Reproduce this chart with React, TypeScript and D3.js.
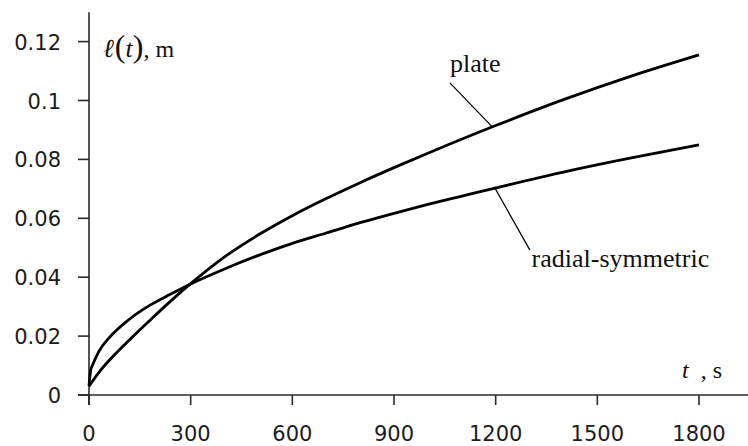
import { scaleLinear, line as d3line, curveMonotoneX } from "d3";

// time, s
const timePlate = [0, 30, 60, 120, 180, 240, 300, 400, 500, 600, 700, 800, 900, 1000, 1200, 1400, 1600, 1800];
const lenPlate = [0.003, 0.0078, 0.0118, 0.0188, 0.0254, 0.0318, 0.0378, 0.0469, 0.0544, 0.0609, 0.0667, 0.0721, 0.0772, 0.0821, 0.0915, 0.1003, 0.1083, 0.1155];

const timeRadial = [0, 5, 10, 30, 60, 120, 180, 240, 300, 400, 500, 600, 700, 800, 900, 1000, 1200, 1400, 1600, 1800];
const lenRadial = [0.003, 0.0085, 0.01, 0.015, 0.0195, 0.0258, 0.0305, 0.0342, 0.0377, 0.0428, 0.0474, 0.0515, 0.055, 0.0585, 0.0617, 0.0647, 0.0703, 0.0757, 0.0805, 0.0849];

const xTicks = [0, 300, 600, 900, 1200, 1500, 1800];
const yTicks = [0, 0.02, 0.04, 0.06, 0.08, 0.1, 0.12];
const yTickLabels = ["0", "0.02", "0.04", "0.06", "0.08", "0.1", "0.12"];

// annotation anchors in data units
const plateNote = { text: "plate", curveT: 1190, tipT: 1065, tipV: 0.106, labelT: 1065, labelV: 0.1097 };
const radialNote = { text: "radial-symmetric", curveT: 1198, tipT: 1301, tipV: 0.0492, labelT: 1306, labelV: 0.0435 };

type Pt = { t: number; v: number };

const zip = (ts: number[], vs: number[]): Pt[] => ts.map((t, i) => ({ t, v: vs[i] }));

function valueAt(pts: Pt[], t: number) {
  for (let i = 1; i < pts.length; i++) {
    if (t <= pts[i].t) {
      const a = pts[i - 1];
      const b = pts[i];
      return a.v + ((t - a.t) / (b.t - a.t)) * (b.v - a.v);
    }
  }
  return pts[pts.length - 1].v;
}

export default function App() {
  const width = 748;
  const height = 446;

  const x = scaleLinear().domain([0, 1800]).range([89, 699]);
  const y = scaleLinear().domain([0, 0.12]).range([395, 41.6]);

  const plate = zip(timePlate, lenPlate);
  const radial = zip(timeRadial, lenRadial);

  const line = d3line<Pt>()
    .x((d) => x(d.t))
    .y((d) => y(d.v))
    .curve(curveMonotoneX);

  const axisColor = "#2a2a2a";
  const tickFont = "'DejaVu Sans', Verdana, sans-serif";
  const serif = "'Liberation Serif', 'Times New Roman', serif";

  const notes = [
    { ...plateNote, pts: plate },
    { ...radialNote, pts: radial },
  ];

  return (
    <svg
      width={width}
      height={height}
      viewBox={`0 0 ${width} ${height}`}
      style={{ position: "absolute", left: 0, top: 0, background: "#fff" }}
    >
      {/* Axes */}
      <line x1={x(0)} y1={y(0.13)} x2={x(0)} y2={y(0) + 10} stroke={axisColor} strokeWidth={1.6} />
      <line x1={x(0) - 11} y1={y(0)} x2={x(1950)} y2={y(0)} stroke={axisColor} strokeWidth={1.6} />

      {/* Y ticks */}
      {yTicks.map((v, i) => (
        <g key={`y${i}`}>
          <line x1={x(0) - 11} x2={x(0)} y1={y(v)} y2={y(v)} stroke={axisColor} strokeWidth={1.6} />
          <text x={61} y={y(v) + 8} textAnchor="end" fontFamily={tickFont} fontSize={21} fill="#1c1c1c">
            {yTickLabels[i]}
          </text>
        </g>
      ))}

      {/* X ticks */}
      {xTicks.map((t) => (
        <g key={`x${t}`}>
          <line x1={x(t)} x2={x(t)} y1={y(0)} y2={y(0) + 10} stroke={axisColor} strokeWidth={1.6} />
          <text x={x(t)} y={441} textAnchor="middle" fontFamily={tickFont} fontSize={21} fill="#1c1c1c">
            {t}
          </text>
        </g>
      ))}

      {/* Axis titles */}
      <text x={103} y={57} fontFamily={serif} fill="#111">
        <tspan fontStyle="italic" fontSize={26}>ℓ</tspan>
        <tspan fontSize={32} dx={1}>(</tspan>
        <tspan fontStyle="italic" fontSize={26}>t</tspan>
        <tspan fontSize={32}>)</tspan>
        <tspan fontSize={24}>, m</tspan>
      </text>
      <text x={682} y={378} fontFamily={serif} fill="#111">
        <tspan fontStyle="italic" fontSize={24}>t</tspan>
        <tspan fontSize={24} dx={12}>, s</tspan>
      </text>

      {/* Curves */}
      <path d={line(plate) ?? undefined} fill="none" stroke="#000" strokeWidth={2.8} />
      <path d={line(radial) ?? undefined} fill="none" stroke="#000" strokeWidth={2.8} />

      {/* Curve labels with leader lines */}
      {notes.map((n) => (
        <g key={n.text}>
          <line
            x1={x(n.curveT)}
            y1={y(valueAt(n.pts, n.curveT))}
            x2={x(n.tipT)}
            y2={y(n.tipV)}
            stroke="#000"
            strokeWidth={1.2}
          />
          <text x={x(n.labelT)} y={y(n.labelV)} fontFamily={serif} fontSize={26} fill="#111">
            {n.text}
          </text>
        </g>
      ))}
    </svg>
  );
}
